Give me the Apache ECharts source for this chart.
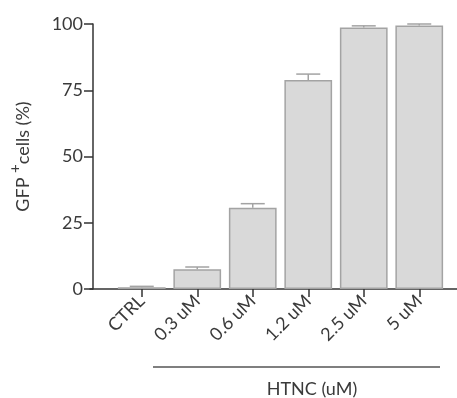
<!DOCTYPE html>
<html><head><meta charset="utf-8">
<script src="https://cdn.jsdelivr.net/npm/echarts@6/dist/echarts.min.js"></script>
<style>html,body{margin:0;padding:0;background:#fff}#c{width:457px;height:398px}</style>
</head><body><div id="c"></div>
<script>
const categories = ['CTRL', '0.3 uM', '0.6 uM', '1.2 uM', '2.5 uM', '5 uM'];
const means = [0.7, 7.5, 30.7, 78.9, 98.7, 99.4];
const errors = [0.3, 0.8, 1.5, 2.2, 0.6, 0.6];
const yTicks = [0, 25, 50, 75, 100];
const groupLabel = 'HTNC (uM)';

const FONT = 'Lato';
const TXT = '#3a3a3a';
const chart = echarts.init(document.getElementById('c'));
chart.setOption({
  animation: false,
  grid: [
    {left: 111, right: 10, top: 24, height: 265},
    {left: 90, right: 0, top: 24, height: 265}
  ],
  xAxis: [
    {type: 'category', data: categories, gridIndex: 0,
     axisLine: {show: false},
     axisTick: {show: true, alignWithLabel: true, length: 8, lineStyle: {color: '#333', width: 1.5}},
     axisLabel: {rotate: 45, fontFamily: FONT, fontSize: 18, color: TXT, margin: 9, interval: 0}},
    {type: 'value', gridIndex: 1, min: 0, max: 1,
     axisLine: {show: true, lineStyle: {color: '#333', width: 1.5}},
     axisTick: {show: false}, axisLabel: {show: false}, splitLine: {show: false}}
  ],
  yAxis: [
    {type: 'value', gridIndex: 0, min: 0, max: 100, interval: 25, offset: 21,
     axisLine: {show: true, lineStyle: {color: '#333', width: 1.5}},
     axisTick: {show: true, length: 9, lineStyle: {color: '#333', width: 1.5}},
     axisLabel: {fontFamily: FONT, fontSize: 18, color: TXT, margin: 10,
       formatter: v => yTicks.includes(v) ? String(v) : ''},
     splitLine: {show: false},
     name: '{a|GFP }{sup|+}{a|cells (%)}', nameLocation: 'middle', nameRotate: 90, nameGap: 54,
     nameTextStyle: {rich: {
       a: {fontFamily: FONT, fontSize: 18, color: TXT},
       sup: {fontFamily: FONT, fontSize: 15, color: TXT, verticalAlign: 'bottom', padding: [0, 0, 16, 0]}
     }}},
    {type: 'value', gridIndex: 1, show: false, min: 0, max: 100}
  ],
  graphic: [
    {type: 'line', shape: {x1: 153, y1: 367, x2: 440, y2: 367}, style: {stroke: '#555', lineWidth: 1.5}},
    {type: 'text', x: 312, y: 389, style: {text: groupLabel, font: '18px ' + FONT, fill: TXT, textAlign: 'center', textVerticalAlign: 'middle'}}
  ],
  series: [
    {type: 'bar', xAxisIndex: 0, yAxisIndex: 0, data: means, barCategoryGap: '14%',
     itemStyle: {color: '#d9d9d9', borderColor: '#a3a3a3', borderWidth: 1.5}},
    {type: 'custom', xAxisIndex: 0, yAxisIndex: 0, z: 3,
     data: means.map((m, i) => [i, m, m + errors[i]]),
     renderItem: function (params, api) {
       const p0 = api.coord([api.value(0), api.value(1)]);
       const p1 = api.coord([api.value(0), api.value(2)]);
       const hw = 12;
       const st = {stroke: '#a3a3a3', lineWidth: 1.5};
       return {type: 'group', children: [
         {type: 'line', shape: {x1: p0[0], y1: p0[1], x2: p1[0], y2: p1[1]}, style: st},
         {type: 'line', shape: {x1: p1[0] - hw, y1: p1[1], x2: p1[0] + hw, y2: p1[1]}, style: st}
       ]};
     }}
  ]
});
</script></body></html>
